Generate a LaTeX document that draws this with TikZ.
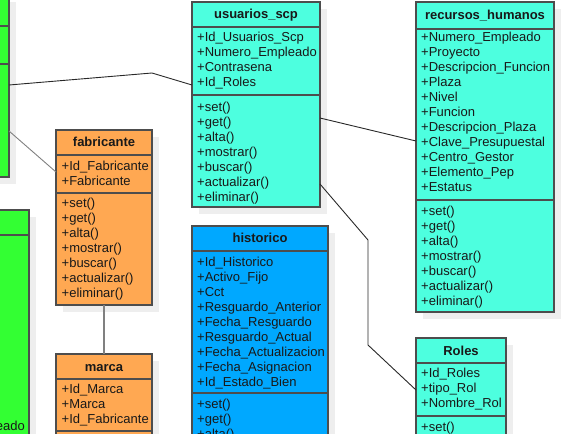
\documentclass[tikz,border=0pt]{standalone}
\usepackage{fontspec}
\setmainfont{Liberation Sans}
\usetikzlibrary{calc}
\definecolor{ggreen}{RGB}{51,255,51}
\definecolor{turq}{RGB}{77,255,223}
\definecolor{orng}{RGB}{255,168,82}
\definecolor{blu}{RGB}{0,168,255}
\definecolor{bordc}{RGB}{77,77,77}
\definecolor{shad}{RGB}{238,238,238}
\definecolor{linec}{RGB}{40,40,40}
\tikzset{
  boxstyle/.style={draw=bordc, line width=1.3pt, inner sep=0pt, outer sep=0pt, anchor=north west, rectangle},
  divstyle/.style={draw=bordc, line width=1.3pt},
  txt/.style={anchor=base west, inner sep=0pt, font=\fontsize{13}{15}\selectfont, text=black!90},
  ttl/.style={anchor=base, inner sep=0pt, font=\fontsize{13}{15}\selectfont\bfseries, text=black!90},
  conn/.style={draw=linec, line width=0.9pt},
}
% name, x1, y1, x2, y2, fill
\newcommand\umlbox[6]{%
  \fill[shad] (#2+7,#3+7) rectangle (#4+7,#5+7);
  \node[boxstyle, fill=#6, minimum width={(#4-#2)*1pt}, minimum height={(#5-#3)*1pt}] (#1) at (#2,#3) {};
}
\newcommand\umldiv[3]{\draw[divstyle] (#1,#3) -- (#2,#3);}
% prefix, x, first center y, list
\newcommand\umltext[4]{%
  \foreach \t [count=\i from 0] in {#4} {\node[txt] (#1\i) at (#2, #3+4.5+15*\i) {\t};}%
}
\begin{document}
\begin{tikzpicture}[x=1pt,y=-1pt]
\useasboundingbox (0,0) rectangle (561,433);
\clip (0,0) rectangle (561,433);

% green top-left
\umlbox{gtop}{-20}{-5}{9}{177}{ggreen}
\umldiv{-20}{9}{26}
\umldiv{-20}{9}{64}

% green bottom-left
\umlbox{gbot}{-20}{210}{29}{470}{ggreen}
\umldiv{-20}{29}{235}
\node[txt, anchor=base east] (gbotT) at (25, 430.5) {eado};

% fabricante
\umlbox{fab}{56}{130}{152}{305}{orng}
\umldiv{56}{152}{155}
\umldiv{56}{152}{193}
\node[ttl] (fabT) at (104, 146.5) {fabricante};
\umltext{fabA}{61.5}{166}{+Id\_Fabricante,+Fabricante}
\umltext{fabM}{61.5}{203}{+set(),+get(),+alta(),+mostrar(),+buscar(),+actualizar(),+eliminar()}

% marca
\umlbox{marca}{56}{354}{152}{480}{orng}
\umldiv{56}{152}{379}
\umldiv{56}{152}{431}
\node[ttl] (marcaT) at (104, 371.5) {marca};
\umltext{marcaA}{61.5}{389}{+Id\_Marca,+Marca,+Id\_Fabricante}

% usuarios_scp
\umlbox{usr}{192}{2}{320}{207}{turq}
\umldiv{192}{320}{27}
\umldiv{192}{320}{95}
\node[ttl] (usrT) at (256, 18.5) {usuarios\_scp};
\umltext{usrA}{197}{37}{+Id\_Usuarios\_Scp,+Numero\_Empleado,+Contrasena,+Id\_Roles}
\umltext{usrM}{197}{107}{+set(),+get(),+alta(),+mostrar(),+buscar(),+actualizar(),+eliminar()}

% recursos_humanos
\umlbox{rh}{416}{2}{554}{312}{turq}
\umldiv{416}{554}{29}
\umldiv{416}{554}{200}
\node[ttl] (rhT) at (485, 19.5) {recursos\_humanos};
\umltext{rhA}{421}{37}{+Numero\_Empleado,+Proyecto,+Descripcion\_Funcion,+Plaza,+Nivel,+Funcion,+Descripcion\_Plaza,+Clave\_Presupuestal,+Centro\_Gestor,+Elemento\_Pep,+Estatus}
\umltext{rhM}{421}{211}{+set(),+get(),+alta(),+mostrar(),+buscar(),+actualizar(),+eliminar()}

% historico
\umlbox{hist}{192}{226}{328}{480}{blu}
\umldiv{192}{328}{251}
\umldiv{192}{328}{393}
\node[ttl] (histT) at (260, 242.5) {historico};
\umltext{histA}{197}{262}{+Id\_Historico,+Activo\_Fijo,+Cct,+Resguardo\_Anterior,+Fecha\_Resguardo,+Resguardo\_Actual,+Fecha\_Actualizacion,+Fecha\_Asignacion,+Id\_Estado\_Bien}
\umltext{histM}{197}{404}{+set(),+get(),+alta()}

% Roles
\umlbox{roles}{416}{338}{506}{480}{turq}
\umldiv{416}{506}{363}
\umldiv{416}{506}{416}
\node[ttl] (rolesT) at (461, 355.5) {Roles};
\umltext{rolesA}{421}{373}{+Id\_Roles,+tipo\_Rol,+Nombre\_Rol}
\umltext{rolesM}{421}{427}{+set()}

% connectors
\coordinate (c1) at (152,73);
\coordinate (c2) at (368,240);
\coordinate (c3) at (368,345);
\draw[conn] ([yshift=-90pt]gtop.north east) -- (c1) -- ([yshift=-83pt]usr.north west);
\draw[conn, draw=gray] ([yshift=-136pt]gtop.north east) -- ([yshift=-42pt]fab.north west);
\draw[conn] ([yshift=-116pt]usr.north east) -- ([yshift=-139pt]rh.north west);
\draw[conn] ([yshift=-182pt]usr.north east) -- (c2) -- (c3) -- ([yshift=-52pt]roles.north west);
\draw[conn, draw=gray, line width=1.5pt] (fab.south) -- (marca.north);
\end{tikzpicture}
\end{document}
